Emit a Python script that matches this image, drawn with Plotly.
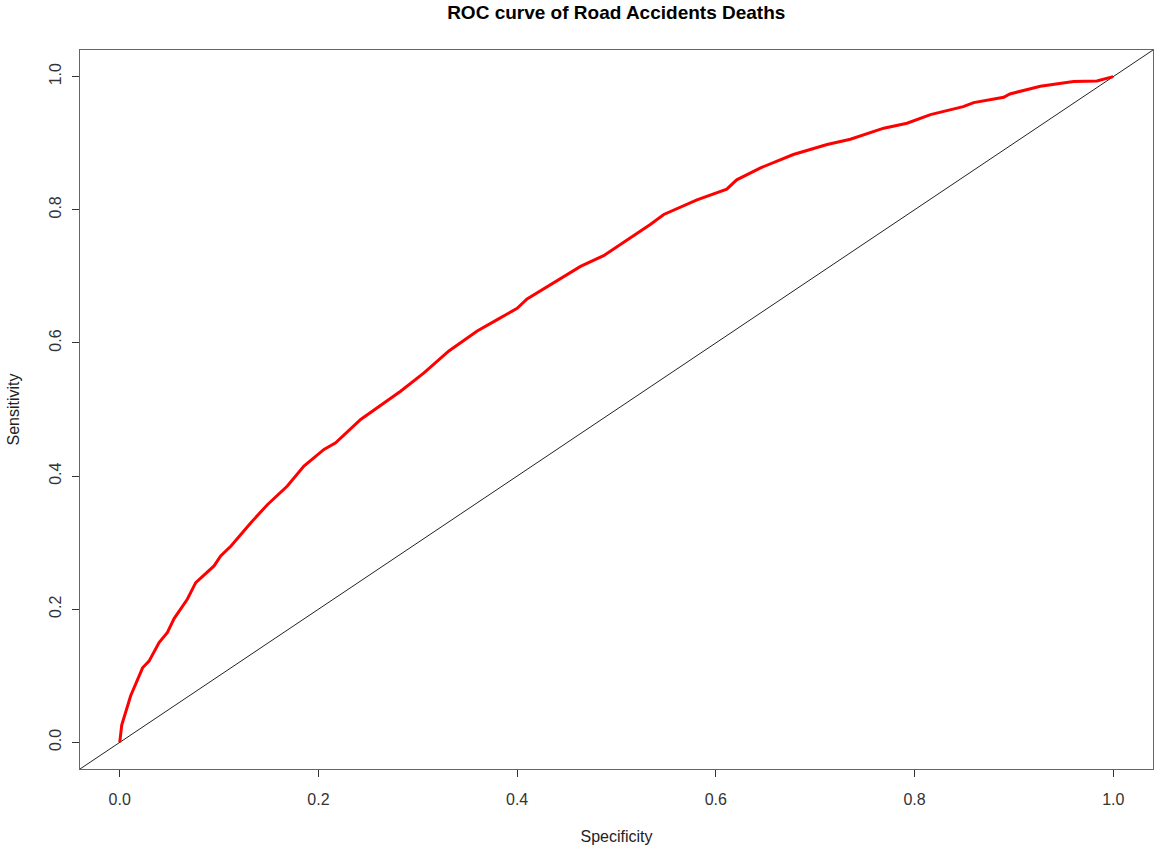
import plotly.graph_objects as go

# ROC curve points (x axis labelled Specificity, y axis Sensitivity)
roc_x = [0, 0.002, 0.011, 0.023, 0.0295, 0.0396, 0.048, 0.0547, 0.068, 0.0765,
         0.0949, 0.1016, 0.112, 0.132, 0.1486, 0.1687, 0.1854, 0.2056, 0.2173, 0.2425,
         0.2827, 0.3062, 0.3313, 0.3598, 0.38, 0.400, 0.410, 0.437, 0.4638, 0.487,
         0.504, 0.534, 0.5476, 0.581, 0.611, 0.621, 0.645, 0.678, 0.712, 0.7354,
         0.769, 0.7924, 0.816, 0.849, 0.8595, 0.8897, 0.896, 0.9266, 0.960, 0.9836, 1.0]
roc_y = [0, 0.026, 0.070, 0.112, 0.122, 0.150, 0.165, 0.186, 0.215, 0.240,
         0.265, 0.280, 0.295, 0.330, 0.357, 0.385, 0.415, 0.440, 0.450, 0.485,
         0.5275, 0.555, 0.588, 0.618, 0.635, 0.652, 0.666, 0.691, 0.715, 0.731,
         0.748, 0.778, 0.793, 0.815, 0.831, 0.845, 0.863, 0.883, 0.898, 0.906,
         0.9226, 0.930, 0.943, 0.955, 0.961, 0.969, 0.974, 0.9855, 0.9925, 0.9935, 1.0]

tick_vals = [0.0, 0.2, 0.4, 0.6, 0.8, 1.0]
tick_text = ["0.0", "0.2", "0.4", "0.6", "0.8", "1.0"]
axis_range = [-0.04, 1.04]

FONT = "Liberation Sans, Arial, sans-serif"

fig = go.Figure()
fig.add_trace(go.Scatter(
    x=roc_x, y=roc_y, mode="lines",
    line=dict(color="#ff0000", width=3),
    showlegend=False, hoverinfo="skip",
))

# reference diagonal y = x across the whole plotting region
fig.add_shape(type="line", xref="x", yref="y",
              x0=axis_range[0], y0=axis_range[0], x1=axis_range[1], y1=axis_range[1],
              line=dict(color="#222222", width=1), layer="below")

axis_common = dict(
    range=axis_range, showgrid=False, zeroline=False, automargin=False,
    showline=True, linecolor="#666666", linewidth=1, mirror=True,
    ticks="outside", ticklen=7, tickwidth=1, tickcolor="#333333",
    tickvals=tick_vals, ticktext=tick_text,
    tickfont=dict(family=FONT, size=16, color="#333333"),
)

fig.update_layout(
    width=1154, height=845,
    margin=dict(l=80, r=1, t=50, b=76),
    paper_bgcolor="white", plot_bgcolor="white",
    title=dict(text="<b>ROC curve of Road Accidents Deaths</b>",
               x=0.534, xanchor="center", y=0.985, yanchor="middle",
               font=dict(family=FONT, size=19, color="black")),
    xaxis=dict(**axis_common, ticklabelstandoff=9,
               title=dict(text="Specificity", standoff=25,
                          font=dict(family=FONT, size=16, color="#222222"))),
    yaxis=dict(**axis_common, tickangle=-90, ticklabelstandoff=5,
               title=dict(text="Sensitivity", standoff=22,
                          font=dict(family=FONT, size=16, color="#222222"))),
)

fig.write_html("out.html")
